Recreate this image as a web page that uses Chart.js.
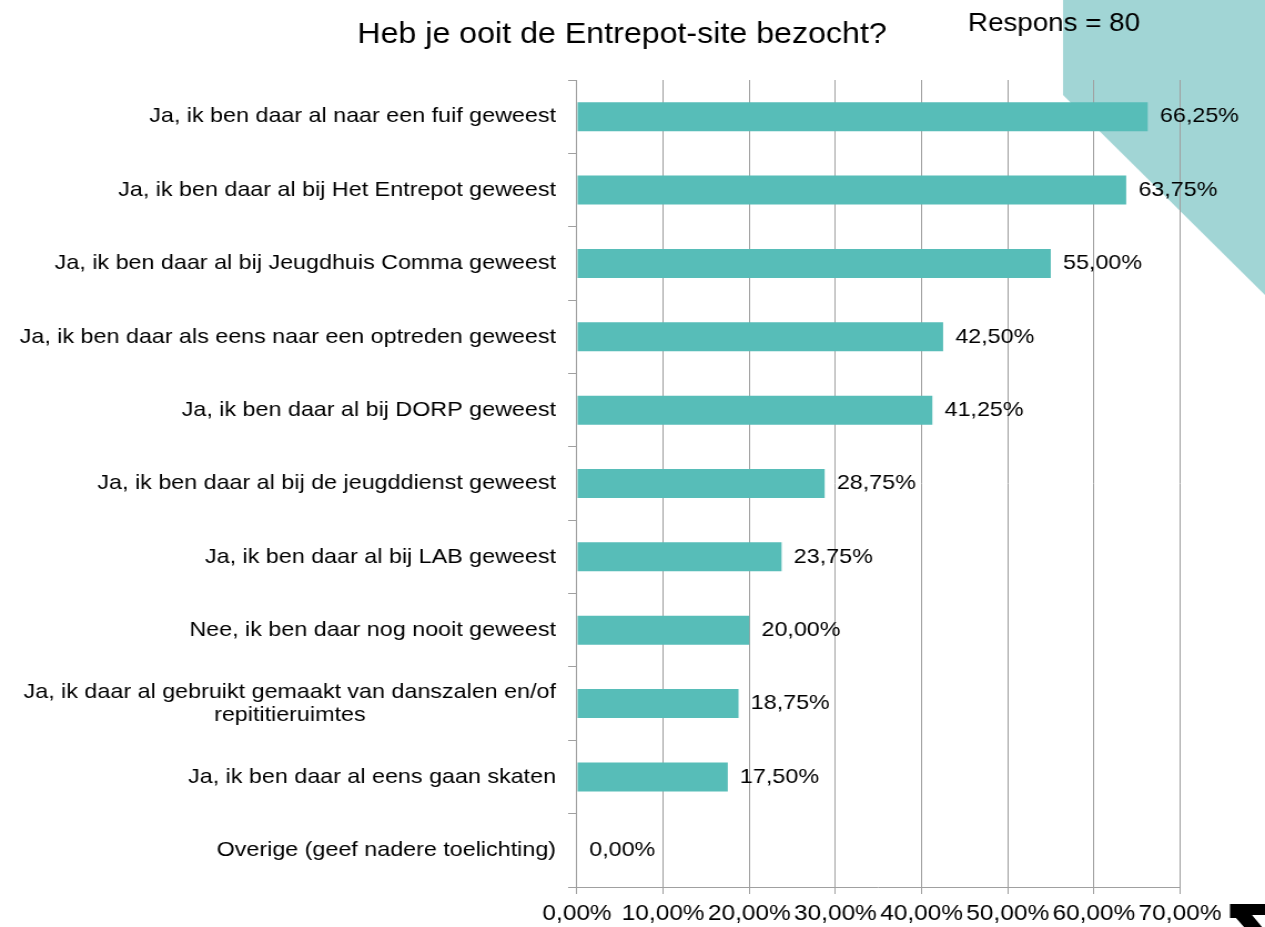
<!DOCTYPE html>
<html>
<head>
<meta charset="utf-8">
<script src="https://cdn.jsdelivr.net/npm/chart.js@4"></script>
<style>
  html, body { margin: 0; padding: 0; background: #fff; overflow: hidden; }
  #myChart { display: block; }
</style>
</head>
<body>
<!-- drawn at 1140 wide and shown at 1265: the reference is stretched horizontally -->
<canvas id="myChart" width="1140" height="927" style="width:1265px;height:927px"></canvas>
<script>
const categories = [
    'Ja, ik ben daar al naar een fuif geweest',
    'Ja, ik ben daar al bij Het Entrepot geweest',
    'Ja, ik ben daar al bij Jeugdhuis Comma geweest',
    'Ja, ik ben daar als eens naar een optreden geweest',
    'Ja, ik ben daar al bij DORP geweest',
    'Ja, ik ben daar al bij de jeugddienst geweest',
    'Ja, ik ben daar al bij LAB geweest',
    'Nee, ik ben daar nog nooit geweest',
    ['Ja, ik daar al gebruikt gemaakt van danszalen en/of', 'repititieruimtes'],
    'Ja, ik ben daar al eens gaan skaten',
    'Overige (geef nadere toelichting)'
];
const percentages = [66.25, 63.75, 55.00, 42.50, 41.25, 28.75, 23.75, 20.00, 18.75, 17.50, 0.00];
const xTicks = [0, 10, 20, 30, 40, 50, 60, 70];
const title = 'Heb je ooit de Entrepot-site bezocht?';
const responseNote = 'Respons = 80';

const SX = 1265 / 1140;
const FONT = "'Liberation Sans', Arial, sans-serif";
const pct = v => v.toFixed(2).replace('.', ',') + '%';

Chart.defaults.font.family = FONT;

const decor = {
    id: 'decor',
    beforeDraw(chart) {
        const ctx = chart.ctx;
        ctx.save();
        ctx.fillStyle = '#ffffff';
        ctx.fillRect(0, 0, chart.width, chart.height);
        // teal corner shape
        ctx.fillStyle = '#a1d5d5';
        ctx.beginPath();
        ctx.moveTo(1063 / SX, 0);
        ctx.lineTo(1063 / SX, 95);
        ctx.lineTo(1265 / SX, 295);
        ctx.lineTo(1265 / SX, 0);
        ctx.closePath();
        ctx.fill();
        ctx.restore();
    },
    afterDraw(chart) {
        const ctx = chart.ctx;
        const y = chart.scales.y;
        ctx.save();
        ctx.fillStyle = '#000';

        ctx.font = '29px ' + FONT;
        ctx.textAlign = 'center';
        ctx.textBaseline = 'alphabetic';
        ctx.fillText(title, 622 / SX, 43);

        ctx.font = '25px ' + FONT;
        ctx.textAlign = 'left';
        ctx.fillText(responseNote, 968 / SX, 31);

        // category labels: block right aligned, lines centred within it
        ctx.font = '21px ' + FONT;
        ctx.textBaseline = 'middle';
        ctx.textAlign = 'center';
        const right = 556 / SX;
        categories.forEach((c, i) => {
            const lines = Array.isArray(c) ? c : [c];
            const w = Math.max(...lines.map(l => ctx.measureText(l).width));
            const cy = y.getPixelForValue(i);
            const lh = 23;
            lines.forEach((l, k) => {
                ctx.fillText(l, right - w / 2, cy + (k - (lines.length - 1) / 2) * lh);
            });
        });

        // value labels
        ctx.textAlign = 'left';
        const meta = chart.getDatasetMeta(0);
        meta.data.forEach((bar, i) => {
            ctx.fillText(pct(percentages[i]), bar.x + 11, bar.y);
        });

        // small black arrow bottom right
        ctx.beginPath();
        const pts = [[1230, 904], [1265, 904], [1265, 915], [1252, 915], [1262, 927],
                     [1244, 927], [1236, 918], [1230, 918]];
        pts.forEach((p, k) => k ? ctx.lineTo(p[0] / SX, p[1]) : ctx.moveTo(p[0] / SX, p[1]));
        ctx.closePath();
        ctx.fill();
        ctx.restore();
    }
};

const ctx = document.getElementById('myChart').getContext('2d');
const myChart = new Chart(ctx, {
    type: 'bar',
    data: {
        labels: categories,
        datasets: [{
            data: percentages,
            backgroundColor: '#57bdb8',
            borderWidth: 0,
            barPercentage: 0.395,
            categoryPercentage: 1
        }]
    },
    options: {
        indexAxis: 'y',
        responsive: false,
        animation: false,
        devicePixelRatio: 1,
        layout: { padding: { top: 80, right: 1140 - 1180 / SX, left: 0, bottom: 0 } },
        plugins: {
            legend: { display: false },
            title: { display: false },
            tooltip: { enabled: false }
        },
        scales: {
            x: {
                min: 0,
                max: 70,
                afterBuildTicks: s => { s.ticks = xTicks.map(v => ({ value: v })); },
                afterFit: s => { s.height = 40; },
                grid: { color: '#a0a0a0', lineWidth: 1, drawTicks: true, tickLength: 7 },
                border: { display: true, color: '#a0a0a0', width: 1 },
                ticks: {
                    color: '#000',
                    font: { size: 22, family: FONT },
                    padding: 7,
                    maxRotation: 0,
                    autoSkip: false,
                    callback: v => pct(v)
                }
            },
            y: {
                afterFit: s => { s.width = 577 / SX; },
                grid: { offset: true, drawOnChartArea: false, drawTicks: true, tickLength: 8, color: '#a0a0a0' },
                border: { display: true, color: '#a0a0a0', width: 1 },
                ticks: { display: false }
            }
        }
    },
    plugins: [decor]
});
</script>
</body>
</html>
